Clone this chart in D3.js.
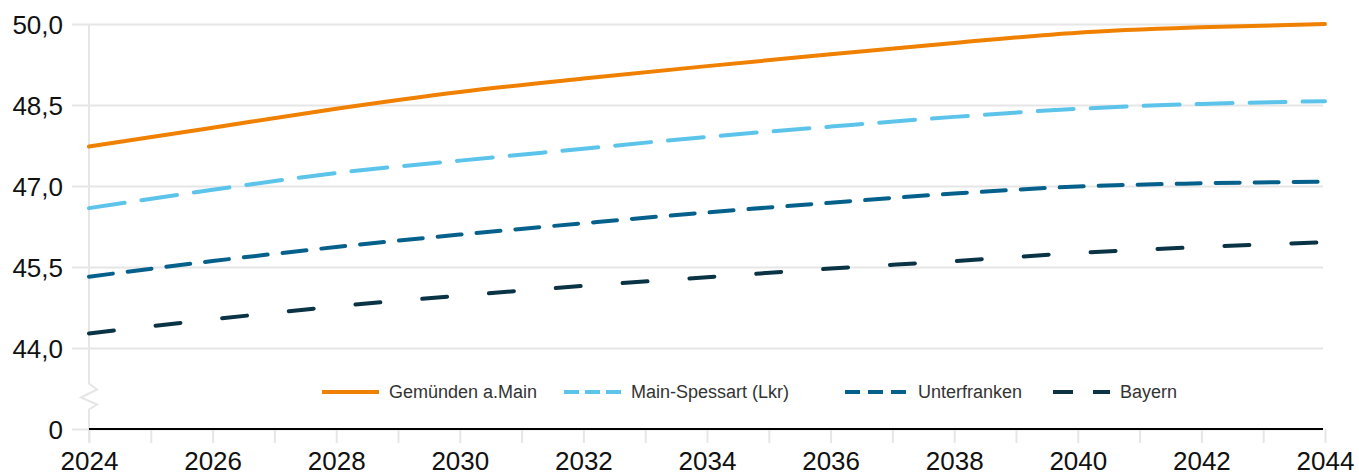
<!DOCTYPE html>
<meta charset="utf-8">
<head>
<style>
  body { margin: 0; background: #fff; }
  svg { display: block; font-family: 'Liberation Sans', Arial, sans-serif; }
  .grid line { stroke: #e6e6e6; stroke-width: 2; }
  .grid text { font-size: 26px; fill: #111; }
  .xaxis line { stroke: #e6e6e6; stroke-width: 2; }
  .xaxis text { font-size: 26px; fill: #111; }
  .legend text { font-size: 18px; fill: #333; }
</style>
</head>
<body>
<svg width="1359" height="476"></svg>

<script src="https://cdn.jsdelivr.net/npm/d3@7"></script>
<script>

// data
var years = [2024, 2026, 2028, 2030, 2032, 2034, 2036, 2038, 2040, 2042, 2044];
var gemuenden    = [47.73, 48.08, 48.43, 48.74, 48.99, 49.22, 49.44, 49.65, 49.84, 49.94, 50.00];
var mainSpessart = [46.59, 46.93, 47.24, 47.47, 47.69, 47.91, 48.10, 48.28, 48.43, 48.52, 48.57];
var unterfranken = [45.32, 45.61, 45.87, 46.10, 46.31, 46.51, 46.69, 46.86, 46.99, 47.05, 47.08];
var bayern       = [44.27, 44.53, 44.77, 44.97, 45.15, 45.31, 45.47, 45.61, 45.76, 45.87, 45.96];

var seriesNames = ["Gemünden a.Main", "Main-Spessart (Lkr)", "Unterfranken", "Bayern"];
var yTicks = [0, 44.0, 45.5, 47.0, 48.5, 50.0];
var xTicks = [2024, 2025, 2026, 2027, 2028, 2029, 2030, 2031, 2032, 2033, 2034,
              2035, 2036, 2037, 2038, 2039, 2040, 2041, 2042, 2043, 2044];

// styles (kept apart from the data)
var styles = [
  {color: "#f08000", dash: null,    legendDash: null,    legendX: 322},
  {color: "#5cc4ea", dash: "36,17", legendDash: "15,6",  legendX: 564},
  {color: "#05618b", dash: "24,15", legendDash: "15,8",  legendX: 845},
  {color: "#0a3445", dash: "25,42", legendDash: "20,20", legendX: 1053}
];

var values = [gemuenden, mainSpessart, unterfranken, bayern];
var series = seriesNames.map(function(name, i) {
  return {
    name: name,
    style: styles[i],
    points: years.map(function(yr, j) { return {year: yr, value: values[i][j]}; })
  };
});

var svg = d3.select("svg");

var gridLeft = 72, gridRight = 1323;

var x = d3.scaleLinear().domain([2024, 2044]).range([89, 1325]);
// broken axis: 0 at the bottom, then 44..50
var y = d3.scaleLinear().domain([0, 44, 50]).range([429, 348, 24]);

var fmt = function(d) { return d === 0 ? "0" : d3.format(".1f")(d).replace(".", ","); };

// gridlines + y labels
var grid = svg.append("g")
    .attr("class", "grid")
    .attr("transform", "translate(" + gridRight + ",0)")
    .call(d3.axisLeft(y)
      .tickValues(yTicks)
      .tickSize(gridRight - gridLeft)
      .tickPadding(9)
      .tickFormat(fmt));
grid.select(".domain").remove();
grid.selectAll("text").attr("dy", "0.36em");

// x axis ticks + labels
var xaxis = svg.append("g")
    .attr("class", "xaxis")
    .attr("transform", "translate(0," + y(0) + ")")
    .call(d3.axisBottom(x)
      .tickValues(xTicks)
      .tickSize(14)
      .tickPadding(9)
      .tickFormat(function(d) { return d % 2 === 0 ? d : ""; }));
xaxis.select(".domain").remove();

// y axis line with the break zigzag
var yTop = y(50), yBot = y(0) + 14, yMid = (y(44) + y(0)) / 2 + 8;
var x0 = x(2024);
svg.append("path")
  .attr("d", "M" + x0 + "," + yTop +
             "V" + (yMid - 13) +
             "L" + (x0 + 8) + "," + (yMid - 7) +
             "L" + (x0 - 8) + "," + (yMid + 1) +
             "L" + (x0 + 8) + "," + (yMid + 8) +
             "L" + x0 + "," + (yMid + 13) +
             "V" + yBot)
  .attr("fill", "none")
  .attr("stroke", "#e6e6e6")
  .attr("stroke-width", 2);

// zero baseline
svg.append("line")
  .attr("x1", x(2024)).attr("x2", gridRight)
  .attr("y1", y(0)).attr("y2", y(0))
  .attr("stroke", "#000")
  .attr("stroke-width", 2);

// lines
var line = d3.line()
  .x(function(d) { return x(d.year); })
  .y(function(d) { return y(d.value); })
  .curve(d3.curveMonotoneX);

svg.selectAll(".series")
  .data(series.slice().reverse())
  .enter().append("path")
    .attr("class", "series")
    .attr("d", function(d) { return line(d.points); })
    .attr("fill", "none")
    .attr("stroke", function(d) { return d.style.color; })
    .attr("stroke-width", 4)
    .attr("stroke-linecap", "round")
    .attr("stroke-dasharray", function(d) { return d.style.dash; });

// legend
var legendY = 392;
var leg = svg.append("g").attr("class", "legend")
  .selectAll("g")
  .data(series)
  .enter().append("g")
    .attr("transform", function(d) { return "translate(" + d.style.legendX + "," + legendY + ")"; });

leg.append("line")
  .attr("x1", 0).attr("x2", function(d, i) { return i === 2 ? 61 : 57; })
  .attr("stroke", function(d) { return d.style.color; })
  .attr("stroke-width", 4)
  .attr("stroke-dasharray", function(d) { return d.style.legendDash; });

leg.append("text")
  .attr("x", function(d, i) { return i === 2 ? 73 : 67; })
  .attr("dy", "0.35em")
  .text(function(d) { return d.name; });

</script>
</body>
